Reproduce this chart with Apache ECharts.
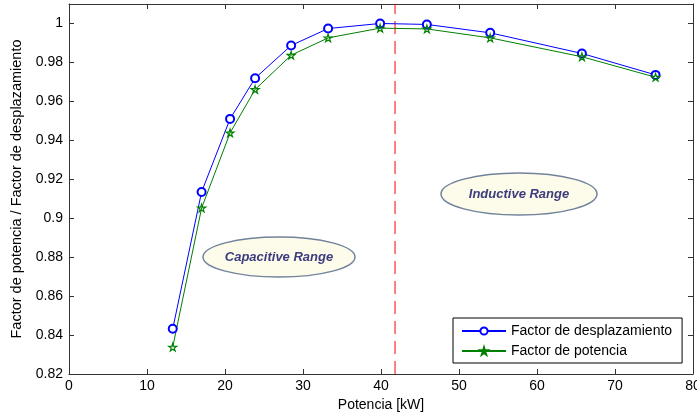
<!DOCTYPE html>
<html>
<head>
<meta charset="utf-8">
<script src="https://cdn.jsdelivr.net/npm/echarts@6/dist/echarts.min.js"></script>
<style>html,body{margin:0;padding:0;background:#fff}#c{width:697px;height:414px}</style>
</head>
<body>
<div id="c"></div>
<script>
const potencia = [13.3, 17.0, 20.65, 23.86, 28.48, 33.22, 39.89, 45.88, 54.0, 65.76, 75.2];
const factorDesplazamiento = [0.8432, 0.9135, 0.951, 0.9719, 0.9887, 0.9974, 1.0, 0.9995, 0.9952, 0.9846, 0.9736];
const factorPotencia = [0.8338, 0.9052, 0.9438, 0.9661, 0.9837, 0.9926, 0.9976, 0.9972, 0.9926, 0.9829, 0.9724];
const limitePotencia = 41.8;
const limiteY = [0.82, 1.01];
const seriesNames = ['Factor de desplazamiento', 'Factor de potencia'];

const FONT = '"Liberation Sans", Arial, sans-serif';
const star = 'path://M50,0 L61,35 L98,35 L68,57 L79,91 L50,70 L21,91 L32,57 L2,35 L39,35 Z';
const axisCol = '#333';

const chart = echarts.init(document.getElementById('c'), null, {renderer: 'canvas'});
chart.setOption({
  animation: false,
  backgroundColor: '#fff',
  textStyle: {fontFamily: FONT},
  grid: {left: 69, right: 4, top: 4, bottom: 40, containLabel: false, outerBoundsMode: 'none'},
  legend: {
    orient: 'vertical',
    left: 453, top: 318,
    padding: [6, 10, 5, 8],
    itemGap: 6,
    itemWidth: 44, itemHeight: 9,
    backgroundColor: '#fff',
    borderColor: '#000', borderWidth: 1, borderRadius: 0,
    textStyle: {fontFamily: FONT, fontSize: 14, lineHeight: 14, color: '#000'},
    data: seriesNames
  },
  xAxis: [{
    type: 'value', min: 0, max: 80, interval: 10,
    name: 'Potencia [kW]', nameLocation: 'middle', nameGap: 24,
    nameTextStyle: {fontFamily: FONT, fontSize: 14, color: '#000'},
    axisLine: {show: true, onZero: false, lineStyle: {color: axisCol, width: 1}},
    axisTick: {show: true, inside: true, length: 5, lineStyle: {color: axisCol}},
    axisLabel: {fontFamily: FONT, fontSize: 14, color: '#000', margin: 5},
    splitLine: {show: false}
  }, {
    type: 'value', position: 'top', min: 0, max: 80, interval: 10,
    axisLine: {show: true, onZero: false, lineStyle: {color: axisCol, width: 1}},
    axisTick: {show: true, inside: true, length: 5, lineStyle: {color: axisCol}},
    axisLabel: {show: false}, splitLine: {show: false}
  }],
  yAxis: [{
    type: 'value', min: 0.82, max: 1.01, interval: 0.02,
    name: 'Factor de potencia / Factor de desplazamiento', nameLocation: 'middle', nameGap: 41, nameRotate: 90,
    nameTextStyle: {fontFamily: FONT, fontSize: 14.5, color: '#000'},
    axisLine: {show: true, onZero: false, lineStyle: {color: axisCol, width: 1}},
    axisTick: {show: true, inside: true, length: 5, lineStyle: {color: axisCol}},
    axisLabel: {fontFamily: FONT, fontSize: 14, color: '#000', margin: 6, showMaxLabel: false},
    splitLine: {show: false}
  }, {
    type: 'value', position: 'right', min: 0.82, max: 1.01, interval: 0.02,
    axisLine: {show: true, onZero: false, lineStyle: {color: axisCol, width: 1}},
    axisTick: {show: true, inside: true, length: 5, lineStyle: {color: axisCol}},
    axisLabel: {show: false}, splitLine: {show: false}
  }],
  series: [{
    name: 'limite', type: 'line',
    data: limiteY.map(y => [limitePotencia, y]),
    symbol: 'none', silent: true, z: 1,
    lineStyle: {color: '#ff0000', width: 1, type: [13, 7]}
  }, {
    name: seriesNames[0], type: 'line',
    data: potencia.map((x, i) => [x, factorDesplazamiento[i]]),
    symbol: 'emptyCircle', symbolSize: 8,
    lineStyle: {color: '#0000ff', width: 1},
    itemStyle: {color: '#0000ff', borderColor: '#0000ff', borderWidth: 1}
  }, {
    name: seriesNames[1], type: 'line',
    data: potencia.map((x, i) => [x, factorPotencia[i]]),
    symbol: star, symbolSize: 8, symbolKeepAspect: true,
    lineStyle: {color: '#008000', width: 1},
    itemStyle: {color: 'rgba(255,255,255,0)', borderColor: '#008000', borderWidth: 1.2}
  }],
  graphic: [
    {type: 'ellipse', shape: {cx: 279, cy: 257, rx: 76, ry: 20},
     style: {fill: '#fdfbea', stroke: '#71839c', lineWidth: 1.5}, z: 10},
    {type: 'text', x: 279, y: 257, z: 11,
     style: {text: 'Capacitive Range', fill: '#3c3c7e', font: 'italic bold 13px ' + FONT, align: 'center', verticalAlign: 'middle'}},
    {type: 'ellipse', shape: {cx: 519, cy: 194, rx: 78, ry: 21},
     style: {fill: '#fdfbea', stroke: '#71839c', lineWidth: 1.5}, z: 10},
    {type: 'text', x: 519, y: 194, z: 11,
     style: {text: 'Inductive Range', fill: '#3c3c7e', font: 'italic bold 13px ' + FONT, align: 'center', verticalAlign: 'middle'}}
  ]
});
</script>
</body>
</html>
